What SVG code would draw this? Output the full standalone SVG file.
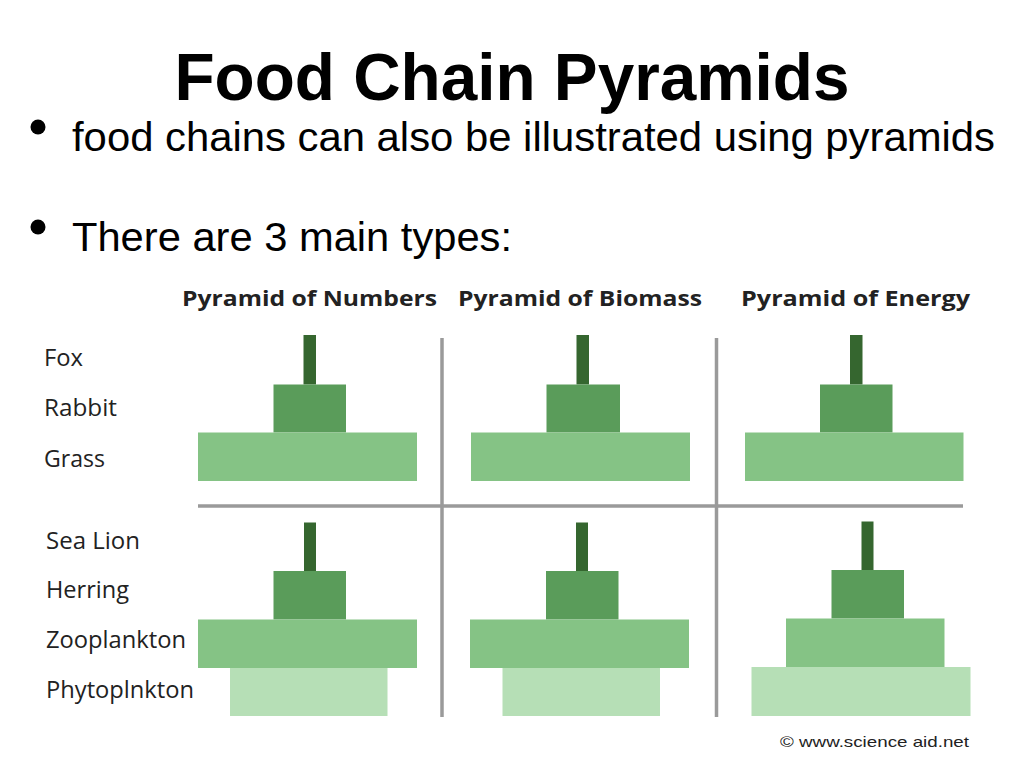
<svg xmlns="http://www.w3.org/2000/svg" width="1024" height="768" viewBox="0 0 1024 768">
<style>
.title{font-family:"Liberation Sans",Arial,sans-serif;font-weight:bold;font-size:66px;fill:#000}
.bul{font-family:"Liberation Sans",Arial,sans-serif;font-size:41px;fill:#000}
.hdr{font-family:"Open Sans","DejaVu Sans",sans-serif;font-weight:700;font-size:22px;fill:#222}
.lbl{font-family:"Open Sans","DejaVu Sans",sans-serif;font-size:23px;fill:#222}
.copy{font-family:"Liberation Sans",Arial,sans-serif;font-size:15px;fill:#222}
.l1{fill:#35662f}
.l2{fill:#5a9c5a}
.l3{fill:#85c385}
.l4{fill:#b6dfb6}
.div{stroke:#9a9a9a;stroke-width:3.5;fill:none}
</style>
<rect width="1024" height="768" fill="#fff"/>
<g id="heading">
<text class="title" x="512" y="100" text-anchor="middle" textLength="675" lengthAdjust="spacingAndGlyphs">Food Chain Pyramids</text>
<circle cx="38" cy="127" r="7.5" fill="#000"/>
<text class="bul" x="72" y="151" textLength="923" lengthAdjust="spacingAndGlyphs">food chains can also be illustrated using pyramids</text>
<circle cx="38" cy="227" r="7.5" fill="#000"/>
<text class="bul" x="72" y="251" textLength="440" lengthAdjust="spacingAndGlyphs">There are 3 main types:</text>
</g>
<g id="headers">
<text class="hdr" x="182" y="306" textLength="255" lengthAdjust="spacingAndGlyphs">Pyramid of Numbers</text>
<text class="hdr" x="458" y="306" textLength="244" lengthAdjust="spacingAndGlyphs">Pyramid of Biomass</text>
<text class="hdr" x="741" y="306" textLength="229" lengthAdjust="spacingAndGlyphs">Pyramid of Energy</text>
</g>
<g id="labels">
<text class="lbl" x="44" y="366" textLength="39" lengthAdjust="spacingAndGlyphs">Fox</text>
<text class="lbl" x="44" y="416" textLength="73" lengthAdjust="spacingAndGlyphs">Rabbit</text>
<text class="lbl" x="44" y="466.5" textLength="61" lengthAdjust="spacingAndGlyphs">Grass</text>
<text class="lbl" x="46" y="548.5" textLength="94" lengthAdjust="spacingAndGlyphs">Sea Lion</text>
<text class="lbl" x="46" y="597.5" textLength="83" lengthAdjust="spacingAndGlyphs">Herring</text>
<text class="lbl" x="46" y="647.5" textLength="140" lengthAdjust="spacingAndGlyphs">Zooplankton</text>
<text class="lbl" x="46" y="697.5" textLength="148" lengthAdjust="spacingAndGlyphs">Phytoplnkton</text>
</g>
<g id="grid">
<line class="div" x1="442" y1="338" x2="442" y2="717"/>
<line class="div" x1="716.5" y1="338" x2="716.5" y2="717"/>
<line class="div" x1="198" y1="506" x2="963" y2="506" stroke-width="4"/>
</g>
<g id="numbers-land">
<rect class="l1" x="303.5" y="335" width="12.5" height="49.5"/>
<rect class="l2" x="273.5" y="384.5" width="72.5" height="48"/>
<rect class="l3" x="198" y="432.5" width="219" height="48.5"/>
</g>
<g id="biomass-land">
<rect class="l1" x="576.5" y="335" width="12.5" height="49.5"/>
<rect class="l2" x="546.5" y="384.5" width="73.5" height="48"/>
<rect class="l3" x="471" y="432.5" width="219" height="48.5"/>
</g>
<g id="energy-land">
<rect class="l1" x="850" y="335" width="12.5" height="49.5"/>
<rect class="l2" x="820" y="384.5" width="72.5" height="48"/>
<rect class="l3" x="745" y="432.5" width="218.5" height="48.5"/>
</g>
<g id="numbers-sea">
<rect class="l1" x="304" y="522.5" width="12" height="48.5"/>
<rect class="l2" x="273.5" y="571" width="72.5" height="48.5"/>
<rect class="l3" x="198" y="619.5" width="219" height="48.5"/>
<rect class="l4" x="230" y="668" width="157.5" height="48"/>
</g>
<g id="biomass-sea">
<rect class="l1" x="576" y="522.5" width="12" height="48.5"/>
<rect class="l2" x="546" y="571" width="72.5" height="48.5"/>
<rect class="l3" x="470" y="619.5" width="219" height="48.5"/>
<rect class="l4" x="502.5" y="668" width="157.5" height="48"/>
</g>
<g id="energy-sea">
<rect class="l1" x="861.5" y="521.5" width="12" height="48.5"/>
<rect class="l2" x="831.5" y="570" width="72.5" height="48.5"/>
<rect class="l3" x="786" y="618.5" width="158.5" height="48.5"/>
<rect class="l4" x="751.5" y="667" width="219" height="49"/>
</g>
<g id="credit">
<text class="copy" x="780" y="746.5" textLength="189" lengthAdjust="spacingAndGlyphs">© www.science aid.net</text>
</g>
</svg>
